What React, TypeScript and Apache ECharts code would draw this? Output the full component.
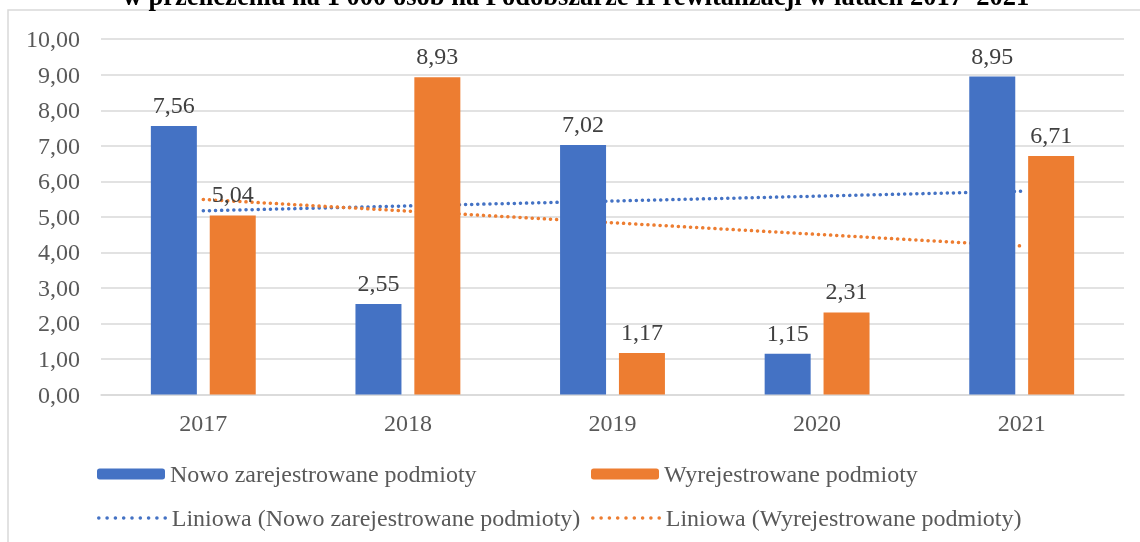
import React, { useEffect, useRef } from "react";
import * as echarts from "echarts";

const categories = ["2017", "2018", "2019", "2020", "2021"];
const newEntities = [7.56, 2.55, 7.02, 1.15, 8.95];
const removedEntities = [5.04, 8.93, 1.17, 2.31, 6.71];
const trendNew = [5.17, "-", "-", "-", 5.72];
const trendRemoved = [5.49, "-", "-", "-", 4.18];
const seriesNames = [
  "Nowo zarejestrowane podmioty",
  "Wyrejestrowane podmioty",
  "Liniowa (Nowo zarejestrowane podmioty)",
  "Liniowa (Wyrejestrowane podmioty)",
];
const titleText =
  "w przeliczeniu na 1 000 osób na Podobszarze II rewitalizacji w latach 2017–2021";

const FONT = '"Times New Roman", "Liberation Serif", serif';
const BLUE = "#4472C4";
const ORANGE = "#ED7D31";
const fmt = (v: number) => v.toFixed(2).replace(".", ",");

export default function App() {
  const ref = useRef<HTMLDivElement>(null);
  useEffect(() => {
    if (!ref.current) return;
    const chart = echarts.init(ref.current, null, { renderer: "svg" });
    const legendText = { fontFamily: FONT, fontSize: 24, color: "#595959" };
    const dotted = (color: string) => ({
      color,
      width: 3.5,
      type: [0.1, 6] as any,
      cap: "round" as any,
    });
    const legendDotted = (color: string) => ({
      color,
      width: 3.5,
      type: [0.1, 8.2] as any,
      cap: "round" as any,
    });
    const legendBase = { itemWidth: 68, itemHeight: 11, itemGap: 0, padding: 0, textStyle: legendText };
    chart.setOption({
      animation: false,
      graphic: [
        {
          type: "rect",
          shape: { x: 8, y: 10, width: 1160, height: 560 },
          style: { fill: "none", stroke: "#d9d9d9", lineWidth: 1.5 },
          silent: true,
        },
        {
          type: "text",
          x: 576,
          y: 9,
          style: {
            text: titleText,
            fontFamily: FONT,
            fontWeight: "bold",
            fontSize: 26.5,
            fill: "#000",
            align: "center",
            verticalAlign: "bottom",
          },
        },
      ],
      grid: { left: 101, right: 16, top: 39.2, bottom: 147.5, containLabel: false },
      legend: [
        { ...legendBase, left: 97, top: 462, data: [seriesNames[0]] },
        { ...legendBase, left: 591, top: 462, data: [seriesNames[1]] },
        {
          ...legendBase, left: 97, top: 506, data: [seriesNames[2]],
          itemStyle: { opacity: 0 },
          lineStyle: legendDotted(BLUE),
        },
        {
          ...legendBase, left: 591, top: 506, data: [seriesNames[3]],
          itemStyle: { opacity: 0 },
          lineStyle: legendDotted(ORANGE),
        },
      ],
      xAxis: {
        type: "category",
        data: categories,
        axisLine: { lineStyle: { color: "#d9d9d9", width: 1.5 } },
        axisTick: { show: false },
        axisLabel: { fontFamily: FONT, fontSize: 24, color: "#595959", margin: 16 },
      },
      yAxis: {
        type: "value",
        min: 0,
        max: 10,
        interval: 1,
        axisLine: { show: false },
        axisTick: { show: false },
        splitLine: { lineStyle: { color: "#d9d9d9", width: 1.5 } },
        axisLabel: {
          fontFamily: FONT, fontSize: 24, color: "#595959", margin: 21,
          formatter: (v: number) => fmt(v),
        },
      },
      series: [
        {
          name: seriesNames[0],
          type: "bar",
          data: newEntities,
          barWidth: 46,
          barGap: "28%",
          z: 3,
          itemStyle: { color: BLUE },
          label: {
            show: true, position: "top", distance: 9,
            fontFamily: FONT, fontSize: 24, color: "#404040",
            formatter: (p: any) => fmt(p.value),
          },
        },
        {
          name: seriesNames[1],
          type: "bar",
          data: removedEntities,
          barWidth: 46,
          barGap: "28%",
          z: 3,
          itemStyle: { color: ORANGE },
          label: {
            show: true, position: "top", distance: 9,
            fontFamily: FONT, fontSize: 24, color: "#404040",
            formatter: (p: any) => fmt(p.value),
          },
        },
        {
          name: seriesNames[2],
          type: "line",
          data: trendNew,
          connectNulls: true,
          symbol: "none",
          z: 2,
          itemStyle: { color: BLUE },
          lineStyle: dotted(BLUE),
        },
        {
          name: seriesNames[3],
          type: "line",
          data: trendRemoved,
          connectNulls: true,
          symbol: "none",
          z: 2,
          itemStyle: { color: ORANGE },
          lineStyle: dotted(ORANGE),
        },
      ],
    });
    return () => chart.dispose();
  }, []);
  return <div ref={ref} style={{ position: "fixed", left: 0, top: 0, width: 1140, height: 542 }} />;
}
